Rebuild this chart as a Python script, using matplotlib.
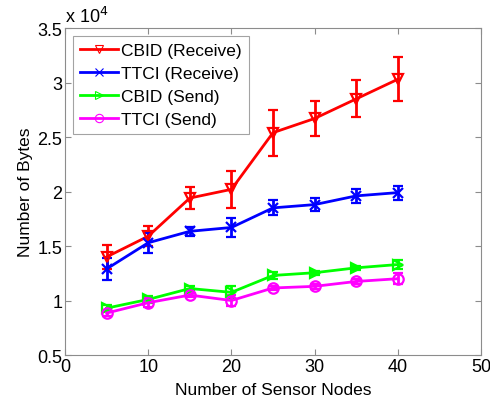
import numpy as np
import matplotlib.pyplot as plt
from matplotlib.lines import Line2D
from matplotlib.ticker import FuncFormatter

plt.rcParams['font.family'] = ['Liberation Sans', 'DejaVu Sans']

# Number of sensor nodes
nodes = [5, 10, 15, 20, 25, 30, 35, 40]

# Mean bytes and error bar half-widths for each protocol
cbid_recv = [14000, 15900, 19400, 20200, 25400, 26700, 28500, 30300]
cbid_recv_err = [1100, 900, 1000, 1700, 2100, 1600, 1700, 2000]
ttci_recv = [12900, 15300, 16350, 16700, 18500, 18800, 19600, 19900]
ttci_recv_err = [1000, 900, 400, 900, 700, 600, 650, 650]
cbid_send = [9300, 10100, 11100, 10750, 12300, 12550, 13000, 13300]
cbid_send_err = [300, 300, 200, 550, 300, 200, 200, 400]
ttci_send = [8850, 9800, 10500, 10000, 11150, 11300, 11750, 12000]
ttci_send_err = [300, 400, 200, 500, 200, 200, 200, 500]

series = [
    ("CBID (Receive)", cbid_recv, cbid_recv_err, "#ff0000", "v"),
    ("TTCI (Receive)", ttci_recv, ttci_recv_err, "#0000ff", "x"),
    ("CBID (Send)", cbid_send, cbid_send_err, "#00ff00", ">"),
    ("TTCI (Send)", ttci_send, ttci_send_err, "#ff00ff", "o"),
]

fig = plt.figure(figsize=(4.9, 4.02), dpi=100)
ax = fig.add_axes([0.1327, 0.1144, 0.849, 0.8134])

handles = []
for label, y, err, color, marker in series:
    ax.errorbar(nodes, y, yerr=err, color=color, marker=marker,
                markersize=7.5, markerfacecolor="none", markeredgecolor=color,
                markeredgewidth=1.6, linewidth=2, elinewidth=2,
                capsize=3.5, capthick=2)
    # legend shows only the line and a small open marker
    handles.append(Line2D([], [], color=color, marker=marker, markersize=6,
                          markerfacecolor="none", markeredgewidth=0.8,
                          linewidth=2, label=label))

ax.set_xlim(0, 50)
ax.set_ylim(5000, 35000)
ax.set_xticks([0, 10, 20, 30, 40, 50])
ax.set_yticks(np.arange(5000, 35001, 5000))
ax.yaxis.set_major_formatter(FuncFormatter(lambda v, p: f"{v / 1e4:g}"))

for s in ax.spines.values():
    s.set_color("#8c8c8c")
    s.set_linewidth(0.8)
ax.tick_params(direction="in", length=4, color="#8c8c8c", labelsize=13,
               top=True, right=True, pad=2)

ax.set_xlabel("Number of Sensor Nodes", fontsize=12.5, labelpad=5)
ax.set_ylabel("Number of Bytes", fontsize=12.5, labelpad=3)
ax.text(0.0, 1.005, "x 10$^4$", transform=ax.transAxes, fontsize=13,
        ha="left", va="bottom")

leg = ax.legend(handles=handles, loc="upper left", fontsize=12.5, frameon=True,
                fancybox=False, handlelength=2.2, borderaxespad=0.45,
                labelspacing=0.45, handletextpad=0.2, borderpad=0.4)
leg.get_frame().set_edgecolor("#8c8c8c")
leg.get_frame().set_linewidth(0.8)

fig.savefig("out.png", dpi=100)
